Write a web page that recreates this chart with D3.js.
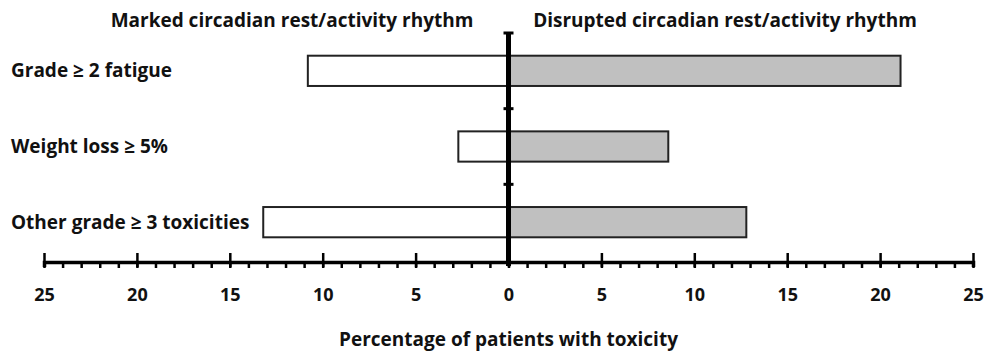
<!DOCTYPE html>
<html>
<head>
<meta charset="utf-8">
<script src="https://cdn.jsdelivr.net/npm/d3@7"></script>
<style>
  html, body { margin: 0; padding: 0; background: #fff; }
  svg { display: block; }
  text { font-family: "Open Sans", Lato, sans-serif; font-weight: bold; fill: #111; }
</style>
</head>
<body>
<svg id="chart" width="992" height="358"></svg>
<script>
// ---- data ----
const categories = ["Grade \u2265 2 fatigue", "Weight loss \u2265 5%", "Other grade \u2265 3 toxicities"];
const markedValues = [10.8, 2.7, 13.2];      // Marked circadian rest/activity rhythm (left)
const disruptedValues = [21.1, 8.6, 12.8];   // Disrupted circadian rest/activity rhythm (right)
const tickLabels = [-25, -20, -15, -10, -5, 0, 5, 10, 15, 20, 25];
const seriesNames = ["Marked circadian rest/activity rhythm", "Disrupted circadian rest/activity rhythm"];
const axisTitle = "Percentage of patients with toxicity";

// ---- layout ----
const svg = d3.select("#chart");
const x = d3.scaleLinear().domain([-25, 25]).range([44, 973]);
const y = d3.scaleBand().domain(categories).range([33, 260]).padding(0);
const barH = y.bandwidth() * 0.4;
const axisY = 262;

const rows = categories.map((c, i) => ({ c, left: markedValues[i], right: disruptedValues[i] }));

// bars
svg.append("g").selectAll("rect").data(rows).join("rect")
  .attr("x", d => x(-d.left))
  .attr("y", d => y(d.c) + y.bandwidth() / 2 - barH / 2)
  .attr("width", d => x(0) - x(-d.left))
  .attr("height", barH)
  .attr("fill", "#ffffff")
  .attr("stroke", "#222")
  .attr("stroke-width", 2);

svg.append("g").selectAll("rect").data(rows).join("rect")
  .attr("x", x(0))
  .attr("y", d => y(d.c) + y.bandwidth() / 2 - barH / 2)
  .attr("width", d => x(d.right) - x(0))
  .attr("height", barH)
  .attr("fill", "#c0c0c0")
  .attr("stroke", "#222")
  .attr("stroke-width", 2);

// category labels
svg.append("g").selectAll("text").data(categories).join("text")
  .attr("x", 11)
  .attr("y", d => y(d) + y.bandwidth() / 2)
  .attr("dy", "0.35em")
  .attr("font-size", 19)
  .text(d => d);

// bottom axis: minor ticks
const minorVals = d3.range(-25, 26, 1);
const minorAxis = svg.append("g")
  .attr("transform", `translate(0,${axisY})`)
  .call(d3.axisBottom(x).tickValues(minorVals).tickSize(6).tickFormat(""));
minorAxis.select(".domain").remove();
minorAxis.selectAll(".tick line").attr("stroke", "#000").attr("stroke-width", 2.5);

// bottom axis: major ticks + labels
const majorAxis = svg.append("g")
  .attr("transform", `translate(0,${axisY})`)
  .call(d3.axisBottom(x).tickValues(tickLabels).tickSizeOuter(0).tickSize(5).tickPadding(21)
    .tickFormat(d => Math.abs(d)));
majorAxis.select(".domain").attr("stroke", "#000").attr("stroke-width", 3.5);
majorAxis.selectAll(".tick line").attr("y1", -9).attr("stroke", "#000").attr("stroke-width", 2.5);
majorAxis.selectAll(".tick text")
  .attr("font-family", "'Open Sans', sans-serif").attr("font-weight", "bold")
  .attr("font-size", 18).attr("fill", "#111");

// center vertical line with category-boundary ticks
svg.append("line")
  .attr("x1", x(0)).attr("x2", x(0))
  .attr("y1", y.range()[0]).attr("y2", axisY + 4)
  .attr("stroke", "#000").attr("stroke-width", 5);
svg.append("g").selectAll("line").data(categories).join("line")
  .attr("x1", x(0) - 5).attr("x2", x(0) + 5)
  .attr("y1", d => y(d)).attr("y2", d => y(d))
  .attr("stroke", "#000").attr("stroke-width", 3);

// series headings
svg.append("text")
  .attr("x", 292).attr("y", 27)
  .attr("text-anchor", "middle").attr("font-size", 19)
  .text(seriesNames[0]);
svg.append("text")
  .attr("x", 725).attr("y", 27)
  .attr("text-anchor", "middle").attr("font-size", 19)
  .text(seriesNames[1]);

// axis title
svg.append("text")
  .attr("x", x(0)).attr("y", 346)
  .attr("text-anchor", "middle").attr("font-size", 19)
  .text(axisTitle);
</script>
</body>
</html>
